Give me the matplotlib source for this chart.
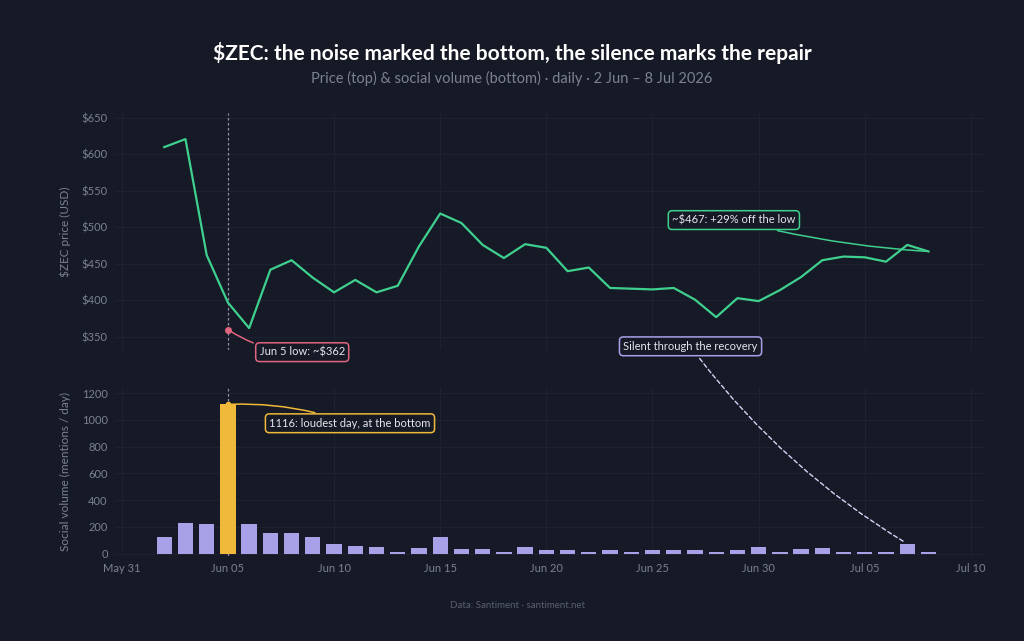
import numpy as np
import pandas as pd
import matplotlib.pyplot as plt
import matplotlib.dates as mdates

plt.rcParams['font.family'] = ['Lato', 'DejaVu Sans']

# daily data, 2 Jun - 8 Jul 2026
dates = pd.date_range('2026-06-02', '2026-07-08', freq='D')
price = [610, 621, 462, 397, 362, 442, 455, 431, 411, 428, 411, 420, 474, 519,
         506, 476, 458, 477, 472, 440, 445, 417, 416, 415, 417, 401, 377, 403,
         399, 414, 432, 455, 460, 459, 453, 476, 467]
volume = [128, 232, 225, 1116, 225, 157, 155, 125, 73, 60, 47, 15, 42, 122,
          35, 35, 15, 47, 27, 27, 15, 28, 10, 27, 27, 27, 10, 27, 52, 10,
          37, 40, 10, 10, 10, 75, 10]
price_ticks = [350, 400, 450, 500, 550, 600, 650]
vol_ticks = [0, 200, 400, 600, 800, 1000, 1200]
date_ticks = ['2026-05-31', '2026-06-05', '2026-06-10', '2026-06-15', '2026-06-20',
              '2026-06-25', '2026-06-30', '2026-07-05', '2026-07-10']

bottom_day = pd.Timestamp('2026-06-05')
quiet_day = pd.Timestamp('2026-07-07')

BG = '#161a26'
GREEN = '#3fcf8e'
PINK = '#e0657f'
YELLOW = '#f0b93a'
LAV = '#a9a1e8'
TICK = '#7c8192'
GRID = '#1d2131'

fig = plt.figure(figsize=(10.24, 6.41), dpi=100)
fig.patch.set_facecolor(BG)

ax1 = fig.add_axes([0.112, 0.454, 0.850, 0.370])
ax2 = fig.add_axes([0.112, 0.133, 0.850, 0.262], sharex=ax1)

for ax in (ax1, ax2):
    ax.set_facecolor(BG)
    for s in ax.spines.values():
        s.set_visible(False)
    ax.tick_params(colors=TICK, labelsize=8, length=0, pad=5)
    ax.grid(True, color=GRID, linewidth=0.8)
    ax.set_axisbelow(True)
    ax.axvline(bottom_day, color='#8d92a3', linestyle=(0, (2, 2)), linewidth=0.9, zorder=1)

# price panel
ax1.plot(dates, price, color=GREEN, linewidth=1.6, zorder=3)
ax1.set_ylim(332, 657)
ax1.set_yticks(price_ticks)
ax1.set_yticklabels(['$%d' % t for t in price_ticks])
ax1.set_ylabel('$ZEC price (USD)', color=TICK, fontsize=8.5, labelpad=8)
plt.setp(ax1.get_xticklabels(), visible=False)

# volume panel
bar_colors = [YELLOW if d == bottom_day else LAV for d in dates]
ax2.bar(dates, volume, width=0.72, color=bar_colors, zorder=3)
ax2.set_ylim(-15, 1240)
ax2.set_yticks(vol_ticks)
ax2.set_ylabel('Social volume (mentions / day)', color=TICK, fontsize=8.5, labelpad=8)

ax2.set_xlim(pd.Timestamp('2026-05-30 16:00'), pd.Timestamp('2026-07-10 16:00'))
ax2.set_xticks(pd.to_datetime(date_ticks))
ax2.xaxis.set_major_formatter(mdates.DateFormatter('%b %d'))

# annotations
low_idx = int(np.argmin(price))
ax1.plot([bottom_day], [360], 'o', color=PINK, markersize=4, zorder=4)
ax1.annotate('Jun 5 low: ~$%d' % price[low_idx], xy=(bottom_day, 360),
             xytext=(pd.Timestamp('2026-06-08 12:00'), 329), annotation_clip=False,
             color='#e6e6ee', fontsize=8, ha='center', va='center',
             bbox=dict(boxstyle='round,pad=0.35', fc=BG, ec=PINK, lw=1.1),
             arrowprops=dict(arrowstyle='-', color=PINK, lw=1.1,
                             connectionstyle='arc3,rad=-0.15'))

last = price[-1]
gain = (last / price[low_idx] - 1) * 100
ax1.annotate('~$%d: +%d%% off the low' % (last, round(gain)), xy=(dates[-1], last),
             xytext=(pd.Timestamp('2026-06-28 20:00'), 510),
             color='#e6e6ee', fontsize=8, ha='center', va='center',
             bbox=dict(boxstyle='round,pad=0.35', fc=BG, ec=GREEN, lw=1.1),
             arrowprops=dict(arrowstyle='-', color=GREEN, lw=1.1,
                             connectionstyle='arc3,rad=0.05'))

ax2.plot([bottom_day], [1116], 'o', color=YELLOW, markersize=3, zorder=4)
ax2.annotate('%d: loudest day, at the bottom' % max(volume), xy=(bottom_day, max(volume)),
             xytext=(pd.Timestamp('2026-06-10 18:00'), 975),
             color='#e6e6ee', fontsize=8, ha='center', va='center',
             bbox=dict(boxstyle='round,pad=0.35', fc=BG, ec=YELLOW, lw=1.1),
             arrowprops=dict(arrowstyle='-', color=YELLOW, lw=1.1,
                             connectionstyle='arc3,rad=0.1'))

ax2.annotate('Silent through the recovery', xy=(quiet_day, volume[-2]),
             xytext=(pd.Timestamp('2026-06-26 19:00'), 1550), annotation_clip=False,
             color='#e6e6ee', fontsize=8, ha='center', va='center',
             bbox=dict(boxstyle='round,pad=0.35', fc=BG, ec=LAV, lw=1.1),
             arrowprops=dict(arrowstyle='-', color='#d6d2f5', lw=1.0, linestyle=(0, (3, 2)),
                             connectionstyle='arc3,rad=0.1'))

# titles
fig.text(0.5, 0.918, '$ZEC: the noise marked the bottom, the silence marks the repair',
         ha='center', va='center', color='white', fontsize=15, fontweight='bold')
fig.text(0.5, 0.878, 'Price (top) & social volume (bottom) \u00b7 daily \u00b7 2 Jun \u2013 8 Jul 2026',
         ha='center', va='center', color='#7c8192', fontsize=10.5)
fig.text(0.505, 0.056, 'Data: Santiment \u00b7 santiment.net',
         ha='center', va='center', color='#5a5f70', fontsize=7)

fig.savefig('out.png', dpi=100, facecolor=fig.get_facecolor())
